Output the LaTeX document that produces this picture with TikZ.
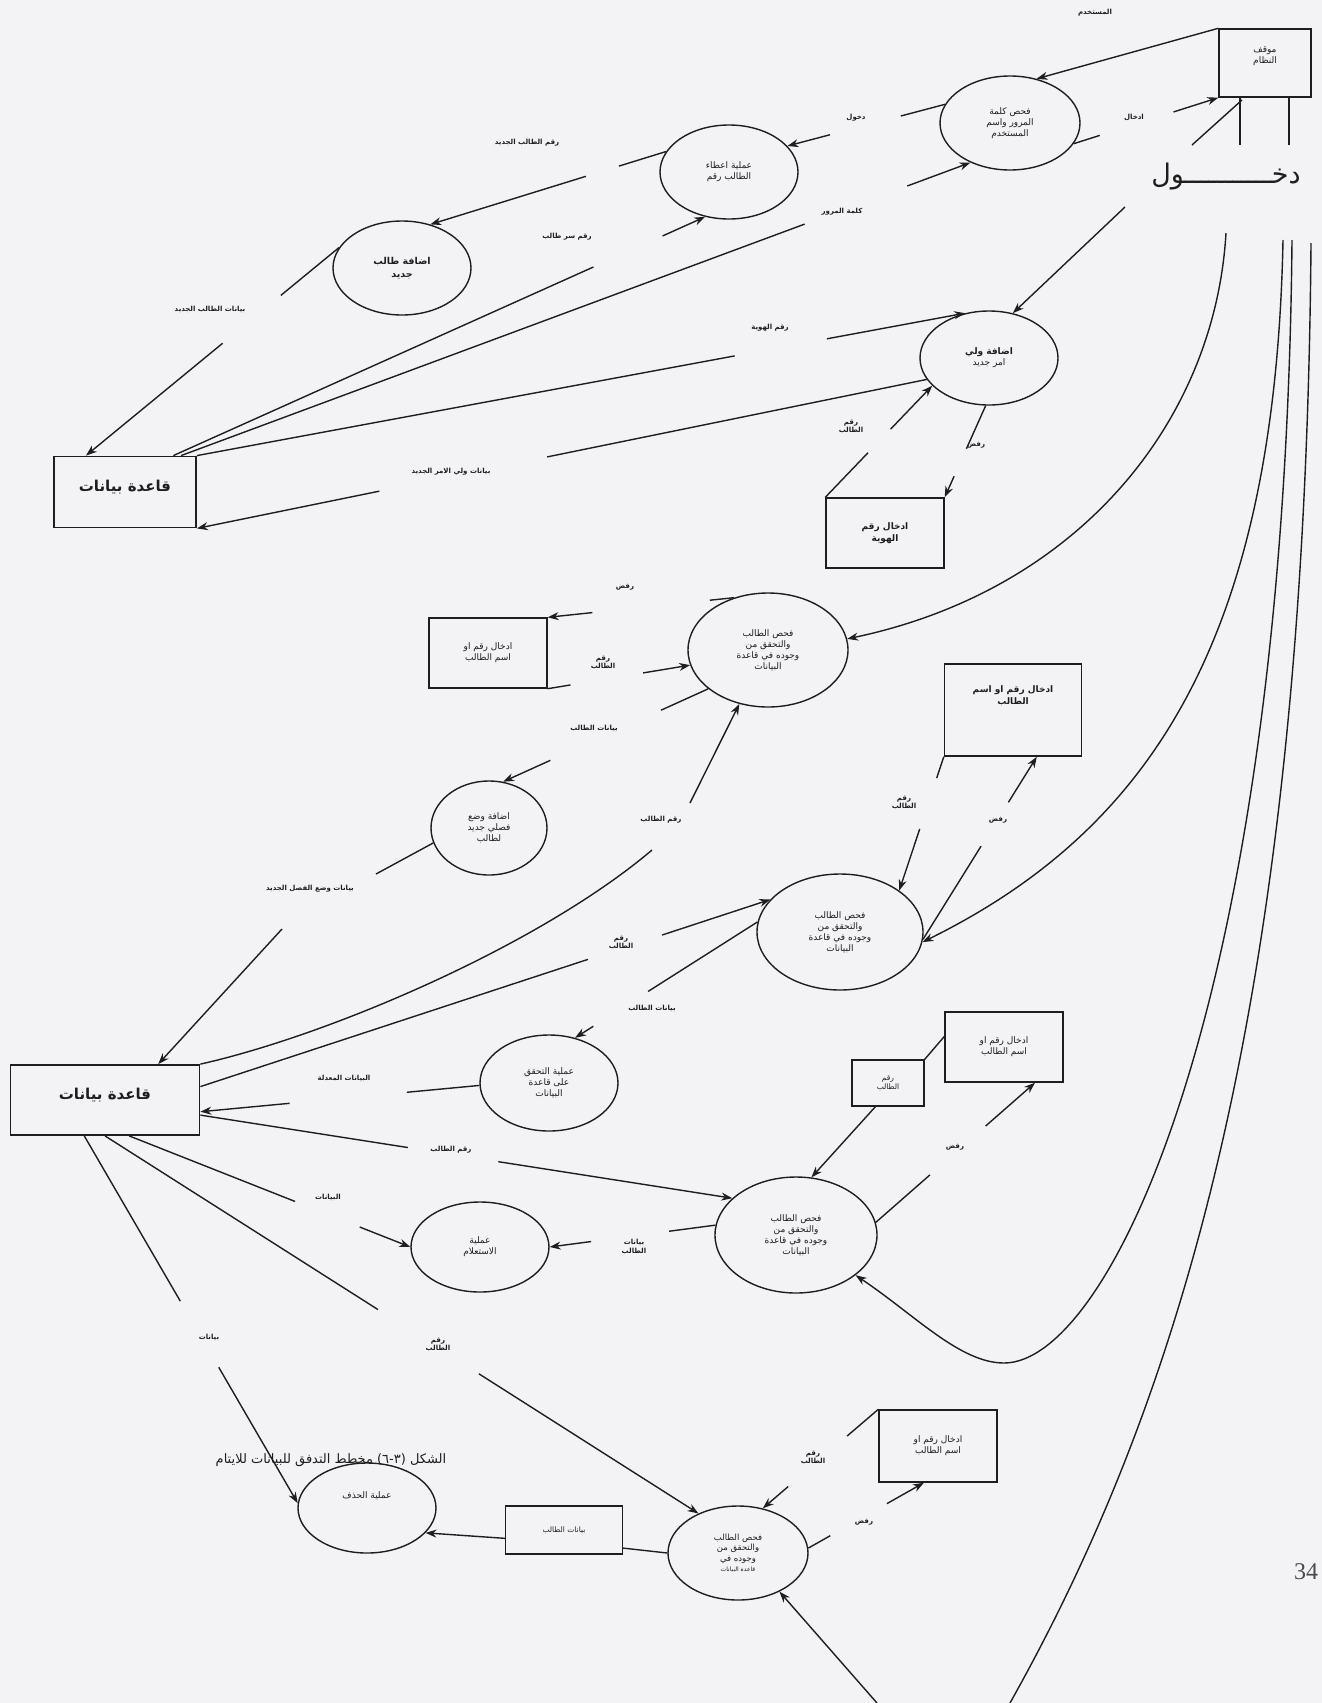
\documentclass[tikz,border=0pt]{standalone}
\usepackage{fontspec}
\setmainfont{Liberation Serif}
\newfontfamily\arabicfont[Script=Arabic]{DejaVu Sans}
\usetikzlibrary{shapes.geometric,arrows.meta}
\TeXXeTstate=1
\newcommand{\artx}[1]{\beginR #1\endR}
\definecolor{bgc}{RGB}{243,243,245}
\definecolor{ink}{RGB}{30,30,30}
\tikzset{
  flow/.style={draw=ink, line width=1.4pt},
  arr/.style={-{Stealth[length=11pt,width=8pt]}},
  proc/.style={ellipse, draw=ink, line width=1.4pt, inner sep=0pt, align=center, text=ink, font=\arabicfont\fontsize{9}{11}\selectfont},
  store/.style={rectangle, draw=ink, line width=1.4pt, inner sep=2pt, align=center, text=ink, font=\arabicfont\fontsize{9}{11}\selectfont},
  dbstore/.style={store, line width=1.8pt, text depth=12pt, font=\arabicfont\bfseries\fontsize{15}{18}\selectfont},
  lbl/.style={inner sep=1pt, align=center, font=\arabicfont\bfseries\fontsize{7}{8.5}\selectfont, text=ink},
}
\newcommand{\gapflow}[4]{%
  \path (#1) -- coordinate[pos=#3] (ga) coordinate[pos=#4] (gb) (#2);
  \draw[flow] (#1) -- (ga);
  \draw[flow,arr] (gb) -- (#2);}
\begin{document}
\begin{tikzpicture}[x=1pt,y=-1pt]
\fill[bgc] (0,0) rectangle (1322,1703);
\useasboundingbox (0,0) rectangle (1322,1703);

% ---------- nodes ----------
\node[store, minimum width=92pt, minimum height=68pt, text depth=16pt] (SYS) at (1265,63) {\artx{موقف}\\\artx{النظام}};
\node[proc, minimum width=140pt, minimum height=94pt] (C1) at (1010,123) {\artx{فحص كلمة}\\\artx{المرور واسم}\\\artx{المستخدم}};
\node[proc, minimum width=138pt, minimum height=94pt] (C2) at (729,172) {\artx{عملية اعطاء}\\\artx{الطالب رقم}};
\node[proc, minimum width=138pt, minimum height=94pt, font=\arabicfont\bfseries\fontsize{9.5}{13}\selectfont] (C3) at (402,268) {\artx{اضافة طالب}\\\artx{جديد}};
\node[dbstore, minimum width=142pt, minimum height=71pt] (DB1) at (125,492) {\artx{قاعدة بيانات}};
\node[proc, minimum width=138pt, minimum height=94pt] (C4) at (989,358) {{\bfseries\artx{اضافة ولي}}\\\artx{امر جديد}};
\node[store, minimum width=118pt, minimum height=70pt, font=\arabicfont\bfseries\fontsize{9}{12}\selectfont] (B1) at (885,533) {\artx{ادخال رقم}\\\artx{الهوية}};
\node[proc, minimum width=160pt, minimum height=114pt] (C5) at (768,650) {\artx{فحص الطالب}\\\artx{والتحقق من}\\\artx{وجوده في قاعدة}\\\artx{البيانات}};
\node[store, minimum width=118pt, minimum height=70pt] (B2) at (488,653) {\artx{ادخال رقم او}\\\artx{اسم الطالب}};
\node[proc, minimum width=116pt, minimum height=94pt] (C6) at (489,828) {\artx{اضافة وضع}\\\artx{فصلي جديد}\\\artx{لطالب}};
\node[store, minimum width=137pt, minimum height=92pt, text depth=30pt, font=\arabicfont\bfseries\fontsize{9}{12}\selectfont] (B3) at (1013,710) {\artx{ادخال رقم او اسم}\\\artx{الطالب}};
\node[proc, minimum width=166pt, minimum height=116pt] (C7) at (840,932) {\artx{فحص الطالب}\\\artx{والتحقق من}\\\artx{وجوده في قاعدة}\\\artx{البيانات}};
\node[proc, minimum width=138pt, minimum height=96pt] (C8) at (549,1083) {\artx{عملية التحقق}\\\artx{على قاعدة}\\\artx{البيانات}};
\node[dbstore, minimum width=189pt, minimum height=70pt] (DB2) at (105,1100) {\artx{قاعدة بيانات}};
\node[store, minimum width=72pt, minimum height=46pt, font=\arabicfont\fontsize{7.5}{9}\selectfont] (B4s) at (888,1083) {\artx{رقم}\\\artx{الطالب}};
\node[store, minimum width=118pt, minimum height=70pt] (B4) at (1004,1047) {\artx{ادخال رقم او}\\\artx{اسم الطالب}};
\node[proc, minimum width=162pt, minimum height=116pt] (C9) at (796,1235) {\artx{فحص الطالب}\\\artx{والتحقق من}\\\artx{وجوده في قاعدة}\\\artx{البيانات}};
\node[proc, minimum width=138pt, minimum height=90pt] (C10) at (480,1247) {\artx{عملية}\\\artx{الاستعلام}};
\node[proc, minimum width=138pt, minimum height=90pt, text depth=25pt] (C11) at (367,1508) {\artx{عملية الحذف}};
\node[store, minimum width=117pt, minimum height=48pt, font=\arabicfont\fontsize{7.5}{9}\selectfont] (B5) at (564,1530) {\artx{بيانات الطالب}};
\node[proc, minimum width=140pt, minimum height=94pt, font=\arabicfont\fontsize{8.5}{10.5}\selectfont] (C12) at (738,1553) {\artx{فحص الطالب}\\\artx{والتحقق من}\\\artx{وجوده في}\\{\fontsize{6}{7}\selectfont\artx{قاعدة البيانات}}};
\node[store, minimum width=118pt, minimum height=72pt] (B6) at (938,1446) {\artx{ادخال رقم او}\\\artx{اسم الطالب}};

% ---------- labels ----------
\node[lbl] (lb1) at (1095,13) {\artx{المستخدم}};
\node[lbl] (lb2) at (1134,117) {\artx{ادخال}};
\node[inner sep=0pt, font=\arabicfont\fontsize{27}{30}\selectfont, text=ink] (big) at (1226,177) {\artx{دخـــــــــــول}};
\node[lbl] (lb3) at (856,118) {\artx{دخول}};
\node[lbl] (lb4) at (842,212) {\artx{كلمة المرور}};
\node[lbl] (lb5) at (527,143) {\artx{رقم الطالب الجديد}};
\node[lbl] (lb6) at (567,237) {\artx{رقم سر طالب}};
\node[lbl] (lb7) at (210,309) {\artx{بيانات الطالب الجديد}};
\node[lbl] (lb8) at (770,328) {\artx{رقم الهوية}};
\node[lbl] (lb9) at (451,472) {\artx{بيانات ولي الامر الجديد}};
\node[lbl] (lb10) at (851,427) {\artx{رقم}\\\artx{الطالب}};
\node[lbl] (lb11) at (976,445) {\artx{رفض}};
\node[lbl] (lb12) at (625,587) {\artx{رفض}};
\node[lbl] (lb13) at (603,663) {\artx{رقم}\\\artx{الطالب}};
\node[lbl] (lb14) at (594,728) {\artx{بيانات الطالب}};
\node[lbl] (lb15) at (661,820) {\artx{رقم الطالب}};
\node[lbl] (lb16) at (904,803) {\artx{رقم}\\\artx{الطالب}};
\node[lbl] (lb17) at (998,820) {\artx{رفض}};
\node[lbl] (lb18) at (310,889) {\artx{بيانات وضع الفصل الجديد}};
\node[lbl] (lb19) at (621,943) {\artx{رقم}\\\artx{الطالب}};
\node[lbl] (lb20) at (652,1008) {\artx{بيانات الطالب}};
\node[lbl] (lb21) at (344,1078) {\artx{البيانات المعدلة}};
\node[lbl] (lb22) at (451,1150) {\artx{رقم الطالب}};
\node[lbl] (lb23) at (328,1197) {\artx{البيانات}};
\node[lbl] (lb24) at (634,1247) {\artx{بيانات}\\\artx{الطالب}};
\node[lbl] (lb25) at (955,1147) {\artx{رفض}};
\node[lbl] (lb26) at (209,1337) {\artx{بيانات}};
\node[lbl] (lb27) at (438,1345) {\artx{رقم}\\\artx{الطالب}};
\node[lbl] (lb28) at (813,1458) {\artx{رقم}\\\artx{الطالب}};
\node[lbl] (lb29) at (864,1522) {\artx{رفض}};
\node[inner sep=0pt, font=\arabicfont\fontsize{13}{15}\selectfont, text=ink] (cap) at (331,1460) {\artx{الشكل (٣-٦) مخطط التدفق للبيانات للايتام}};
\node[inner sep=0pt, font=\fontsize{24}{26}\selectfont, text=ink!80] (pg) at (1306,1572) {34};

% ---------- free coordinates ----------
\coordinate (s1a) at (1240,97);  \coordinate (s1b) at (1240,145);
\coordinate (s2a) at (1289,97);  \coordinate (s2b) at (1289,145);
\coordinate (s3a) at (1242,100); \coordinate (s3b) at (1192,145);
\coordinate (e4) at (1125,207);
\coordinate (t1) at (1226,233);
\coordinate (t2) at (1283,240);
\coordinate (t3) at (1292,240);
\coordinate (t4) at (1311,243);
\coordinate (u3) at (1004,1363);
\coordinate (b4) at (1010,1703);
\coordinate (e12) at (877,1703);
\coordinate (g17a) at (652,850); \coordinate (g17b) at (690,803);
\coordinate (g21a) at (376,874); \coordinate (g21b) at (282,929);

% ---------- connectors ----------
\draw[flow] (s1a) -- (s1b);
\draw[flow] (s2a) -- (s2b);
\draw[flow] (s3a) -- (s3b);
\draw[flow,arr] (SYS.north west) -- (C1.59);
\gapflow{C1.342}{SYS.south west}{0.18}{0.69}
\gapflow{C1.164}{C2.24}{0.28}{0.73}
\gapflow{DB1.33}{C1.225}{0.79}{0.92}
\gapflow{DB1.37}{C2.242}{0.79}{0.92}
\gapflow{C2.162}{C3.57}{0.2}{0.34}
\gapflow{C3.162}{DB1.137}{0.23}{0.46}
\gapflow{DB1.north east}{C4.118}{0.70}{0.82}
\gapflow{C4.199}{DB1.south east}{0.52}{0.75}
\draw[flow,arr] (e4) -- (C4.62);
\gapflow{B1.north west}{C4.206}{0.4}{0.61}
\gapflow{C4.266}{B1.north east}{0.47}{0.77}
\draw[flow,arr] (t1) .. controls (1215,420) and (1080,590) .. (C5.8);
\gapflow{C5.123}{B2.north east}{0.13}{0.76}
\gapflow{B2.south east}{C5.191}{0.16}{0.67}
\gapflow{C5.213}{C6.73}{0.23}{0.77}
\draw[flow] (DB2.north east) .. controls (330,1035) and (540,945) .. (g17a);
\draw[flow,arr] (g17b) -- (C5.242);
\gapflow{B3.south west}{C7.35}{0.16}{0.54}
\gapflow{C7.355}{B3.297}{0.51}{0.75}
\gapflow{DB2.8}{C7.155}{0.68}{0.81}
\draw[flow] (C6.195) -- (g21a);
\draw[flow,arr] (g21b) -- (DB2.34);
\draw[flow,arr] (t2) .. controls (1275,640) and (1150,830) .. (C7.353);
\gapflow{C7.173}{C8.60}{0.6}{0.9}
\gapflow{C8.182}{DB2.353}{0.26}{0.68}
\gapflow{DB2.351}{C9.150}{0.39}{0.56}
\gapflow{DB2.304}{C10.180}{0.59}{0.82}
\gapflow{C9.173}{C10.0}{0.28}{0.75}
\draw[flow,arr] (B4s.242) -- (C9.75);
\draw[flow] (B4s.north east) -- (B4.170);
\gapflow{C9.9}{B4.311}{0.34}{0.69}
\draw[flow,arr] (t3) .. controls (1285,1000) and (1110,1363) .. (u3) .. controls (960,1363) and (915,1315) .. (C9.326);
\gapflow{DB2.240}{C11.176}{0.45}{0.63}
\gapflow{DB2.south}{C12.135}{0.46}{0.63}
\draw[flow,arr] (B5.188) -- (C11.337);
\draw[flow] (C12.180) -- (B5.343);
\gapflow{B6.north west}{C12.61}{0.27}{0.78}
\gapflow{C12.4}{B6.249}{0.19}{0.68}
\draw[flow] (t4) .. controls (1305,1000) and (1180,1400) .. (b4);
\draw[flow,arr] (e12) -- (C12.317);
\end{tikzpicture}
\end{document}
